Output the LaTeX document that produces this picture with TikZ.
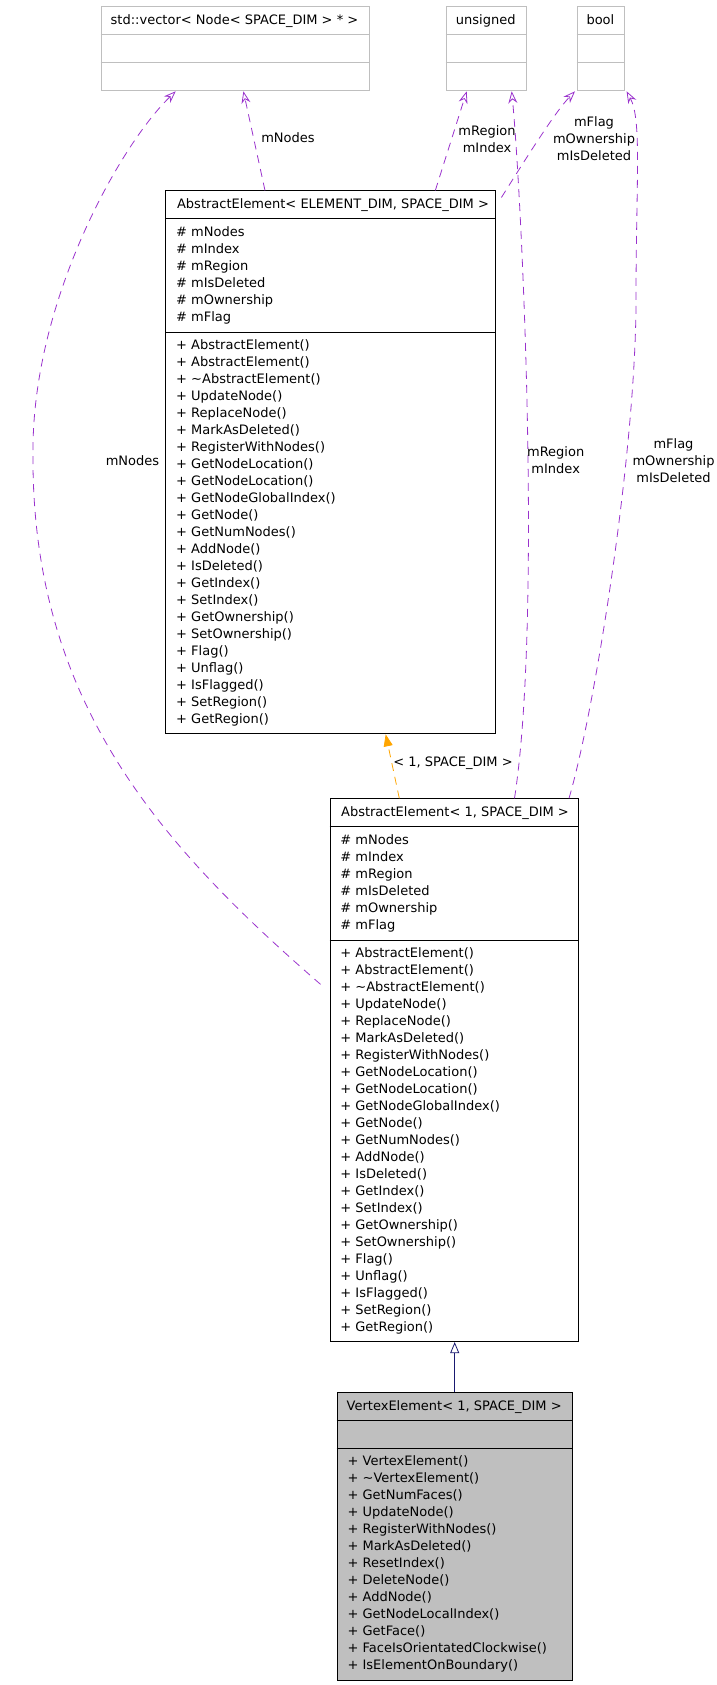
\documentclass[tikz,border=0pt]{standalone}
\usepackage{fontspec}
\setmainfont{DejaVu Sans}
\usetikzlibrary{arrows.meta}
\definecolor{usecol}{HTML}{9A32CD}
\definecolor{tmplcol}{HTML}{FFA500}
\definecolor{inhcol}{HTML}{191970}
\definecolor{grayedge}{HTML}{BFBFBF}
\definecolor{vefill}{HTML}{BFBFBF}
\begin{document}
\begin{tikzpicture}[x=1pt,y=-1pt,
  txt/.style={inner sep=0pt, font=\fontsize{13}{17}\selectfont},
  lbl/.style={inner sep=0pt, align=center, font=\fontsize{13}{17}\selectfont},
  umlbox/.style={draw=black, line width=1pt, inner sep=0pt, anchor=north west},
  graybox/.style={draw=grayedge, line width=1pt, inner sep=0pt, anchor=north west},
  sep/.style={line width=1pt},
  gsep/.style={draw=grayedge, line width=1pt},
  use/.style={draw=usecol, line width=0.8pt, dash pattern=on 8pt off 6pt, -{Stealth[open, length=12pt, width=9pt]}},
  tmpl/.style={draw=tmplcol, line width=0.8pt, dash pattern=on 8pt off 6pt, -{Triangle[length=12pt, width=9pt, fill=tmplcol]}},
  inh/.style={draw=inhcol, line width=0.8pt, -{Triangle[open, length=11pt, width=9pt, fill=white]}}
]
\useasboundingbox (0,0) rectangle (716,1685);

% ---------- top boxes ----------
\node[graybox, minimum width=268pt, minimum height=84.3pt] (vec) at (100.5,6) {};
\draw[gsep] ([yshift=-28.3pt]vec.north west) -- ([yshift=-28.3pt]vec.north east);
\draw[gsep] ([yshift=-56.3pt]vec.north west) -- ([yshift=-56.3pt]vec.north east);
\node[txt, anchor=base] (vec-t) at (234.5,24.3) {std::vector< Node< SPACE\_DIM > * >};

\node[graybox, minimum width=79.9pt, minimum height=84.3pt] (uns) at (445.7,6) {};
\draw[gsep] ([yshift=-28.3pt]uns.north west) -- ([yshift=-28.3pt]uns.north east);
\draw[gsep] ([yshift=-56.3pt]uns.north west) -- ([yshift=-56.3pt]uns.north east);
\node[txt, anchor=base] (uns-t) at (485.7,24.3) {unsigned};

\node[graybox, minimum width=47.8pt, minimum height=84.3pt] (bool) at (576.5,6) {};
\draw[gsep] ([yshift=-28.3pt]bool.north west) -- ([yshift=-28.3pt]bool.north east);
\draw[gsep] ([yshift=-56.3pt]bool.north west) -- ([yshift=-56.3pt]bool.north east);
\node[txt, anchor=base] (bool-t) at (600.4,24.3) {bool};

% ---------- AbstractElement< ELEMENT_DIM, SPACE_DIM > ----------
\node[umlbox, minimum width=330.1pt, minimum height=542.8pt] (ae) at (165.3,190.5) {};
\draw[sep] ([yshift=-27.8pt]ae.north west) -- ([yshift=-27.8pt]ae.north east);
\draw[sep] ([yshift=-141.8pt]ae.north west) -- ([yshift=-141.8pt]ae.north east);
\node[txt, anchor=base] (ae-t) at (333,208.8) {AbstractElement< ELEMENT\_DIM, SPACE\_DIM >};
\foreach \t [count=\i] in {\# mNodes, \# mIndex, \# mRegion, \# mIsDeleted, \# mOwnership, \# mFlag}
  \node[txt, anchor=base west] (ae-a\i) at ({176},{236.3+17*(\i-1)}) {\t};
\foreach \t [count=\i] in {+ AbstractElement(), + AbstractElement(), + \textasciitilde{}AbstractElement(), + UpdateNode(), + ReplaceNode(), + MarkAsDeleted(), + RegisterWithNodes(), + GetNodeLocation(), + GetNodeLocation(), + GetNodeGlobalIndex(), + GetNode(), + GetNumNodes(), + AddNode(), + IsDeleted(), + GetIndex(), + SetIndex(), + GetOwnership(), + SetOwnership(), + Flag(), + Unflag(), + IsFlagged(), + SetRegion(), + GetRegion()}
  \node[txt, anchor=base west] (ae-m\i) at ({176},{349.3+17*(\i-1)}) {\t};

% ---------- AbstractElement< 1, SPACE_DIM > ----------
\node[umlbox, minimum width=248pt, minimum height=542.8pt] (ae1) at (329.5,798.3) {};
\draw[sep] ([yshift=-27.8pt]ae1.north west) -- ([yshift=-27.8pt]ae1.north east);
\draw[sep] ([yshift=-141.8pt]ae1.north west) -- ([yshift=-141.8pt]ae1.north east);
\node[txt, anchor=base] (ae1-t) at (455,816.6) {AbstractElement< 1, SPACE\_DIM >};
\foreach \t [count=\i] in {\# mNodes, \# mIndex, \# mRegion, \# mIsDeleted, \# mOwnership, \# mFlag}
  \node[txt, anchor=base west] (ae1-a\i) at ({340.2},{844.1+17*(\i-1)}) {\t};
\foreach \t [count=\i] in {+ AbstractElement(), + AbstractElement(), + \textasciitilde{}AbstractElement(), + UpdateNode(), + ReplaceNode(), + MarkAsDeleted(), + RegisterWithNodes(), + GetNodeLocation(), + GetNodeLocation(), + GetNodeGlobalIndex(), + GetNode(), + GetNumNodes(), + AddNode(), + IsDeleted(), + GetIndex(), + SetIndex(), + GetOwnership(), + SetOwnership(), + Flag(), + Unflag(), + IsFlagged(), + SetRegion(), + GetRegion()}
  \node[txt, anchor=base west] (ae1-m\i) at ({340.2},{957.1+17*(\i-1)}) {\t};

% ---------- VertexElement< 1, SPACE_DIM > ----------
\node[umlbox, fill=vefill, minimum width=235pt, minimum height=288pt] (ve) at (336.7,1392) {};
\draw[sep] ([yshift=-28pt]ve.north west) -- ([yshift=-28pt]ve.north east);
\draw[sep] ([yshift=-56pt]ve.north west) -- ([yshift=-56pt]ve.north east);
\node[txt, anchor=base] (ve-t) at (454.2,1410.3) {VertexElement< 1, SPACE\_DIM >};
\foreach \t [count=\i] in {+ VertexElement(), + \textasciitilde{}VertexElement(), + GetNumFaces(), + UpdateNode(), + RegisterWithNodes(), + MarkAsDeleted(), + ResetIndex(), + DeleteNode(), + AddNode(), + GetNodeLocalIndex(), + GetFace(), + FaceIsOrientatedClockwise(), + IsElementOnBoundary()}
  \node[txt, anchor=base west] (ve-m\i) at ({347.4},{1465+17*(\i-1)}) {\t};

% ---------- connectors ----------
\draw[use] ([xshift=99.7pt]ae.north west) -- ([xshift=142.9pt]vec.south west);
\node[lbl] (l-mn1) at (288,138) {mNodes};

\draw[use] ([xshift=-9pt,yshift=-186pt]ae1.north west)
   .. controls (160,845) and (30,700) .. (33,450)
   .. controls (33,300) and (120,145) .. ([xshift=75.2pt]vec.south west);
\node[lbl] (l-mn2) at (132.5,460.7) {mNodes};

\draw[use] ([xshift=270pt]ae.north west) -- ([xshift=21pt]uns.south west);
\node[lbl] (l-ri1) at (487,139) {mRegion\\mIndex};

\draw[use] ([xshift=185pt]ae1.north west) .. controls (542,620) and (522,200) .. ([xshift=66pt]uns.south west);
\node[lbl] (l-ri2) at (555.7,460.2) {mRegion\\mIndex};

\draw[use] ([xshift=5pt,yshift=-7pt]ae.north east) .. controls (525,160) and (555,112) .. ([xshift=-1.5pt]bool.south west);
\node[lbl] (l-fo1) at (594,139) {mFlag\\mOwnership\\mIsDeleted};

\draw[use] ([xshift=239.5pt]ae1.north west) .. controls (595,710) and (636,450) .. (636,300)
   .. controls (636,180) and (642,120) .. ([xshift=1.3pt]bool.south east);
\node[lbl] (l-fo2) at (673.5,460.2) {mFlag\\mOwnership\\mIsDeleted};

\draw[tmpl] ([xshift=69.8pt]ae1.north west) -- ([xshift=220.4pt]ae.south west);
\node[lbl] (l-tp) at (453,763.3) {< 1, SPACE\_DIM >};

\draw[inh] (ve.north) -- (ve.north |- ae1.south);
\end{tikzpicture}
\end{document}
